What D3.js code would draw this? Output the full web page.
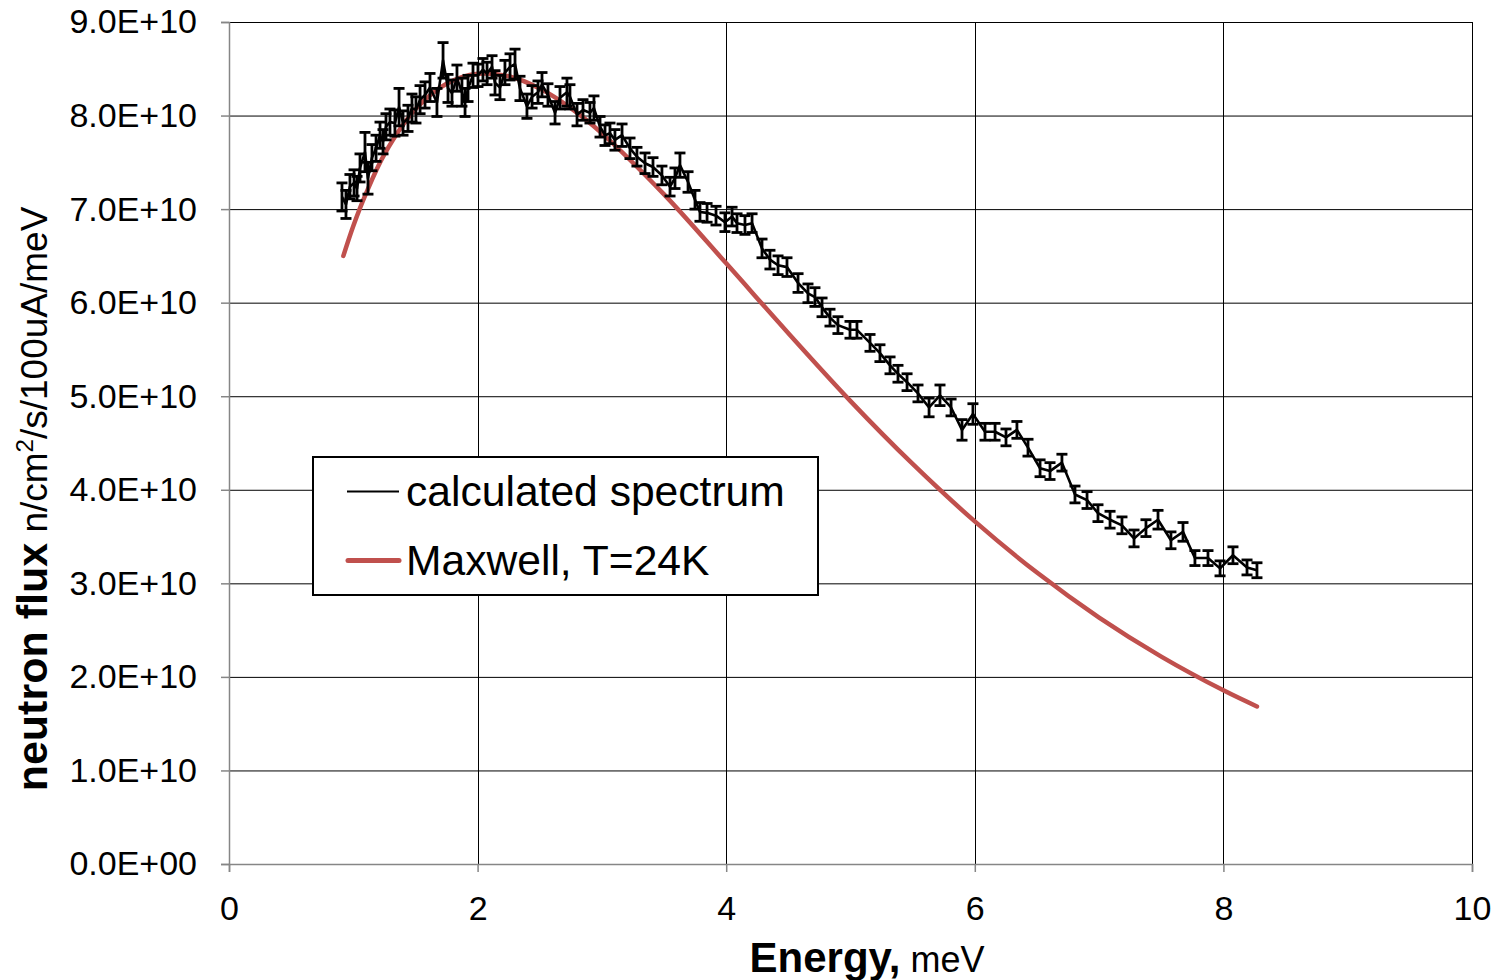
<!DOCTYPE html>
<html>
<head>
<meta charset="utf-8">
<script src="https://cdn.jsdelivr.net/npm/d3@7"></script>
<style>
  html, body { margin: 0; padding: 0; background: #fff; }
  svg { display: block; }
  text { font-family: "Liberation Sans", Arial, sans-serif; fill: #000; }
</style>
</head>
<body>
<svg id="chart" width="1510" height="980"></svg>
<script>
// ---- data (flux in units of 1E10 n/cm2/s/100uA/meV) ----
const energy = [0.909,0.941,0.973,1.006,1.030,1.054,1.094,1.118,1.150,1.183,1.215,1.239,1.263,1.295,1.335,1.368,1.400,1.440,1.472,1.504,1.537,1.577,1.617,1.673,1.722,1.762,1.794,1.834,1.874,1.899,1.923,1.963,2.003,2.043,2.076,2.116,2.140,2.180,2.220,2.261,2.301,2.341,2.397,2.438,2.486,2.518,2.566,2.623,2.663,2.719,2.743,2.800,2.848,2.904,2.936,2.985,3.025,3.065,3.105,3.162,3.226,3.282,3.347,3.411,3.483,3.548,3.588,3.628,3.693,3.749,3.789,3.846,3.918,3.990,4.047,4.087,4.151,4.208,4.288,4.352,4.417,4.489,4.578,4.658,4.714,4.771,4.835,4.899,4.996,5.052,5.157,5.237,5.318,5.382,5.455,5.543,5.632,5.720,5.809,5.897,5.985,6.082,6.163,6.251,6.339,6.428,6.525,6.605,6.701,6.806,6.903,6.991,7.088,7.184,7.281,7.377,7.474,7.578,7.675,7.771,7.876,7.973,8.077,8.190,8.270];
const flux = [7.13,7.05,7.24,7.28,7.22,7.44,7.61,7.33,7.55,7.65,7.79,7.72,7.88,7.93,7.92,8.09,7.92,7.97,8.08,8.06,8.17,8.22,8.30,8.14,8.59,8.29,8.24,8.40,8.25,8.14,8.29,8.43,8.43,8.49,8.45,8.52,8.35,8.30,8.46,8.52,8.55,8.29,8.10,8.20,8.25,8.33,8.22,8.03,8.19,8.25,8.20,8.01,8.06,8.03,8.08,7.88,7.79,7.81,7.74,7.79,7.65,7.56,7.49,7.45,7.36,7.24,7.33,7.47,7.29,7.10,6.97,6.96,6.93,6.86,6.92,6.85,6.83,6.85,6.58,6.46,6.40,6.38,6.21,6.10,6.06,5.95,5.84,5.76,5.71,5.71,5.57,5.46,5.33,5.24,5.15,5.03,4.88,5.01,4.88,4.64,4.81,4.62,4.62,4.56,4.64,4.45,4.23,4.20,4.29,3.95,3.89,3.75,3.68,3.62,3.48,3.59,3.68,3.46,3.55,3.27,3.27,3.16,3.30,3.17,3.14];
const fluxErr = [0.15,0.15,0.13,0.14,0.13,0.15,0.21,0.17,0.14,0.14,0.14,0.13,0.14,0.14,0.14,0.20,0.13,0.14,0.15,0.14,0.15,0.14,0.15,0.15,0.19,0.15,0.14,0.14,0.15,0.15,0.14,0.13,0.12,0.12,0.12,0.12,0.13,0.13,0.13,0.14,0.16,0.13,0.13,0.12,0.12,0.13,0.12,0.12,0.12,0.15,0.13,0.12,0.11,0.11,0.13,0.11,0.11,0.11,0.11,0.12,0.11,0.10,0.11,0.10,0.10,0.10,0.11,0.13,0.11,0.10,0.10,0.10,0.10,0.10,0.10,0.10,0.10,0.10,0.10,0.10,0.10,0.10,0.10,0.10,0.10,0.10,0.09,0.09,0.09,0.09,0.09,0.09,0.09,0.09,0.09,0.09,0.10,0.11,0.09,0.11,0.11,0.09,0.09,0.09,0.09,0.09,0.09,0.09,0.09,0.09,0.09,0.09,0.09,0.09,0.09,0.09,0.10,0.09,0.10,0.08,0.08,0.08,0.09,0.08,0.08];

const maxwellE = [0.92,1.0,1.1,1.25,1.5,1.75,2.0,2.25,2.5,2.75,3.0,3.5,4.0,4.5,5.0,5.5,6.0,6.5,7.0,7.5,8.0,8.27];
const maxwellFlux = [6.50,6.82,7.16,7.586,8.067,8.339,8.446,8.420,8.289,8.079,7.810,7.157,6.420,5.673,4.948,4.276,3.662,3.115,2.634,2.217,1.856,1.684];

const xTicks = [0,2,4,6,8,10];
const yTicks = [0,1,2,3,4,5,6,7,8,9];
const yTickLabels = ["0.0E+00","1.0E+10","2.0E+10","3.0E+10","4.0E+10","5.0E+10","6.0E+10","7.0E+10","8.0E+10","9.0E+10"];
const seriesNames = ["calculated spectrum","Maxwell, T=24K"];

// ---- layout ----
const L = 229, R = 1472, T = 22, B = 864;
const svg = d3.select("#chart");
const x = d3.scaleLinear().domain([0,10]).range([L,R]);
const y = d3.scaleLinear().domain([0,9]).range([B,T]);

// gridlines
const grid = svg.append("g");
grid.selectAll("line.h").data(yTicks.filter(d=>d>0)).join("line")
  .attr("x1", L).attr("x2", R)
  .attr("y1", d=>y(d)+0.5).attr("y2", d=>y(d)+0.5)
  .attr("stroke", "#000").attr("stroke-width", 1);
grid.selectAll("line.v").data(xTicks.filter(d=>d>0)).join("line")
  .attr("x1", d=>Math.round(x(d))+0.5).attr("x2", d=>Math.round(x(d))+0.5)
  .attr("y1", T).attr("y2", B)
  .attr("stroke", "#000").attr("stroke-width", 1);

// axes
const yAxis = svg.append("g").attr("transform", `translate(${L},0)`)
  .call(d3.axisLeft(y).tickValues(yTicks).tickFormat((d,i)=>yTickLabels[i]).tickSize(8).tickPadding(24));
const xAxis = svg.append("g").attr("transform", `translate(0,${B})`)
  .call(d3.axisBottom(x).tickValues(xTicks).tickFormat(d3.format("d")).tickSize(8).tickPadding(24));
[yAxis, xAxis].forEach(g => {
  g.select(".domain").attr("stroke", "#868686").attr("stroke-width", 1.5);
  g.selectAll(".tick line").attr("stroke", "#868686").attr("stroke-width", 1.5);
  g.selectAll(".tick text").attr("font-size", 34).attr("font-family", "Liberation Sans, Arial, sans-serif").attr("fill", "#000");
});

// Maxwell curve
const mData = maxwellE.map((e,i)=>[e, maxwellFlux[i]]);
svg.append("path").datum(mData)
  .attr("d", d3.line().x(d=>x(d[0])).y(d=>y(d[1])).curve(d3.curveCatmullRom))
  .attr("fill", "none").attr("stroke", "#C0504D").attr("stroke-width", 4.5)
  .attr("stroke-linecap", "round").attr("stroke-linejoin", "round");

// calculated spectrum with error bars
const sData = energy.map((e,i)=>({e, v: flux[i], err: fluxErr[i]}));
const eb = svg.append("g").attr("stroke", "#000").attr("stroke-width", 2.8).attr("fill", "none");
const capW = 5.5;
sData.forEach(d => {
  const cx = x(d.e), y1 = y(d.v + d.err), y0 = y(d.v - d.err);
  eb.append("line").attr("x1", cx).attr("x2", cx).attr("y1", y1).attr("y2", y0);
  eb.append("line").attr("x1", cx-capW).attr("x2", cx+capW).attr("y1", y1).attr("y2", y1);
  eb.append("line").attr("x1", cx-capW).attr("x2", cx+capW).attr("y1", y0).attr("y2", y0);
});
svg.append("path").datum(sData)
  .attr("d", d3.line().x(d=>x(d.e)).y(d=>y(d.v)))
  .attr("fill", "none").attr("stroke", "#000").attr("stroke-width", 2.6).attr("stroke-linejoin", "round");

// legend
const lg = svg.append("g");
lg.append("rect").attr("x", 313).attr("y", 457).attr("width", 505).attr("height", 138)
  .attr("fill", "#fff").attr("stroke", "#000").attr("stroke-width", 2);
lg.append("line").attr("x1", 347).attr("x2", 399).attr("y1", 491.5).attr("y2", 491.5)
  .attr("stroke", "#000").attr("stroke-width", 2);
lg.append("line").attr("x1", 348).attr("x2", 399).attr("y1", 560.5).attr("y2", 560.5)
  .attr("stroke", "#C0504D").attr("stroke-width", 5).attr("stroke-linecap", "round");
lg.append("text").attr("x", 406).attr("y", 506).attr("font-size", 42.6).text(seriesNames[0]);
lg.append("text").attr("x", 406).attr("y", 575).attr("font-size", 42.6).text(seriesNames[1]);

// axis titles
const xt = svg.append("text").attr("x", 867).attr("y", 972).attr("text-anchor", "middle");
xt.append("tspan").attr("font-weight", "bold").attr("font-size", 42).text("Energy,");
xt.append("tspan").attr("font-size", 36).text(" meV");

const yt = svg.append("text").attr("transform", "translate(47,499) rotate(-90)").attr("text-anchor", "middle");
yt.append("tspan").attr("font-weight", "bold").attr("font-size", 43).text("neutron flux");
yt.append("tspan").attr("font-size", 37).text(" n/cm");
yt.append("tspan").attr("font-size", 24).attr("dy", -14).text("2");
yt.append("tspan").attr("font-size", 37).attr("dy", 14).text("/s/100uA/meV");
</script>
</body>
</html>
